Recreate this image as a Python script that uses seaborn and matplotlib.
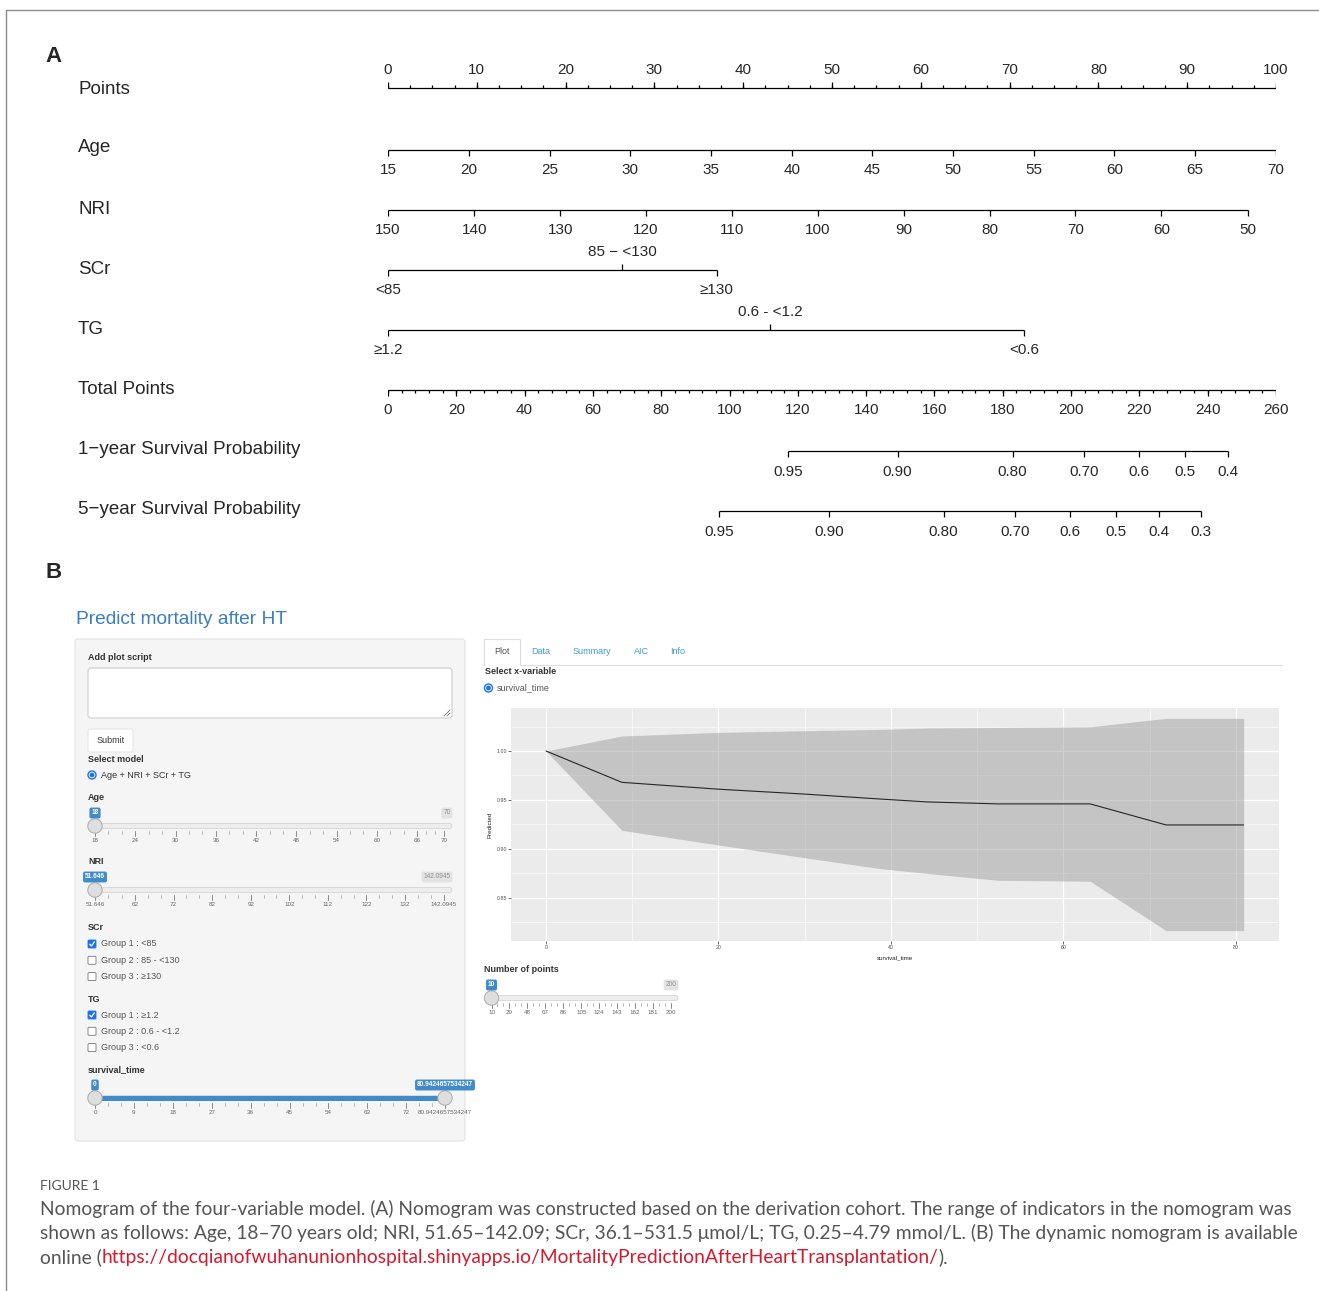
import matplotlib
matplotlib.use("Agg")
import matplotlib.pyplot as plt
from matplotlib.patches import FancyBboxPatch, Rectangle, Circle
import numpy as np
import pandas as pd
import seaborn as sns

W, H = 1319, 1291

# ---------------- panel A: nomogram values ----------------
points_ticks = [0, 10, 20, 30, 40, 50, 60, 70, 80, 90, 100]
age_labels = [15, 20, 25, 30, 35, 40, 45, 50, 55, 60, 65, 70]
age_points = [0, 9.1, 18.2, 27.3, 36.4, 45.5, 54.5, 63.6, 72.7, 81.8, 90.9, 100]
nri_labels = [150, 140, 130, 120, 110, 100, 90, 80, 70, 60, 50]
nri_points = [0, 9.7, 19.4, 29.0, 38.7, 48.4, 58.1, 67.8, 77.4, 87.1, 96.8]
scr_labels = ["<85", "85 \u2212 <130", "\u2265130"]
scr_points = [0, 26.4, 37.0]
tg_labels = ["\u22651.2", "0.6 - <1.2", "<0.6"]
tg_points = [0, 43.0, 71.6]
total_ticks = [0, 20, 40, 60, 80, 100, 120, 140, 160, 180, 200, 220, 240, 260]
surv1_labels = ["0.95", "0.90", "0.80", "0.70", "0.6", "0.5", "0.4"]
surv1_total = [117.2, 149.2, 182.9, 203.9, 220.0, 233.4, 246.0]
surv5_labels = ["0.95", "0.90", "0.80", "0.70", "0.6", "0.5", "0.4", "0.3"]
surv5_total = [96.9, 129.2, 162.7, 183.7, 199.7, 213.2, 225.8, 237.9]
row_names = ["Points", "Age", "NRI", "SCr", "TG", "Total Points",
             "1\u2212year Survival Probability", "5\u2212year Survival Probability"]

# ---------------- panel B: shiny app values ----------------
age_slider = [18, 24, 30, 36, 42, 48, 54, 60, 66, 70]
nri_slider = [51.646, 62, 72, 82, 92, 102, 112, 122, 132, 142.0945]
nri_slider_text = ["51.646", "62", "72", "82", "92", "102", "112", "122", "132", "142.0945"]
time_slider = [0, 9, 18, 27, 36, 45, 54, 63, 72, 80.9424657534247]
time_slider_text = ["0", "9", "18", "27", "36", "45", "54", "63", "72", "80.9424657534247"]
npoints_slider = [10, 29, 48, 67, 86, 105, 124, 143, 162, 181, 200]
scr_groups = ["Group 1 : <85", "Group 2 : 85 - <130", "Group 3 : \u2265130"]
scr_checked = [True, False, False]
tg_groups = ["Group 1 : \u22651.2", "Group 2 : 0.6 - <1.2", "Group 3 : <0.6"]
tg_checked = [True, False, False]
tab_names = ["Plot", "Data", "Summary", "AIC", "Info"]

surv_time = [0, 8.8, 20, 30, 38.7, 44.2, 52.4, 63.1, 71.9, 80.9]
surv_pred = [1.000, 0.968, 0.961, 0.956, 0.951, 0.948, 0.946, 0.946, 0.9245, 0.9245]
surv_upper = [1.000, 1.0153, 1.019, 1.0207, 1.022, 1.0235, 1.024, 1.0247, 1.0333, 1.0333]
surv_lower = [1.000, 0.919, 0.904, 0.891, 0.880, 0.875, 0.868, 0.867, 0.8166, 0.8166]

sns.set_style("white")
plt.rcParams["font.family"] = ["Liberation Sans", "DejaVu Sans"]

fig = plt.figure(figsize=(W / 100, H / 100), dpi=100)
fig.patch.set_facecolor("white")

# pixel-space canvas for the screenshot parts
ui = fig.add_axes([0, 0, 1, 1], zorder=0)
ui.set_xlim(0, W)
ui.set_ylim(H, 0)
ui.axis("off")

# frame lines of the page
ui.plot([6, W], [10, 10], color="#8c8c8c", lw=1)
ui.plot([6, 6], [10, H], color="#8c8c8c", lw=1)

# ================= Panel A =================
ui.text(54, 56, "A", fontsize=16, fontweight="bold", ha="center", va="center")
row_y = [88, 150, 210, 270, 330, 390, 451, 511]
row_text_y = [90, 148, 210, 270, 330, 390, 449, 509]
for name, yy in zip(row_names, row_text_y):
    ui.text(78, yy, name, fontsize=13.5, ha="left", va="center")

box = [388 / W, 1 - 560 / H, 888 / W, 520 / H]
ax = fig.add_axes(box, zorder=2)
ax.set_xlim(0, 100)
ax.set_ylim(560, 40)
ax.axis("off")
axt = fig.add_axes(box, zorder=2)
axt.set_xlim(0, 260)
axt.set_ylim(560, 40)
axt.axis("off")

lw = 0.9
fs = 11


def scale(a, y, xs, labels, down=True, label_side=None, minor=None, mlen=3):
    a.hlines(y, min(xs), max(xs), color="black", lw=lw)
    for i, (x, lab) in enumerate(zip(xs, labels)):
        d = down if label_side is None else label_side[i]
        a.vlines(x, y, y + 6 if d else y - 6, color="black", lw=lw)
        a.text(x, y + 20.5 if d else y - 18.5, str(lab), fontsize=fs, ha="center", va="center")
    if minor is not None:
        a.vlines(minor, y, y + mlen if down else y - mlen, color="black", lw=lw)


scale(ax, row_y[0], points_ticks, points_ticks, down=False,
      minor=np.arange(0, 100.1, 2.5))
scale(ax, row_y[1], age_points, age_labels)
scale(ax, row_y[2], nri_points, nri_labels)
scale(ax, row_y[3], scr_points, scr_labels, label_side=[True, False, True])
scale(ax, row_y[4], tg_points, tg_labels, label_side=[True, False, True])
scale(axt, row_y[5], total_ticks, total_ticks, minor=np.arange(0, 260.1, 4))
scale(axt, row_y[6], surv1_total, surv1_labels)
scale(axt, row_y[7], surv5_total, surv5_labels)

# ================= Panel B =================
ui.text(54, 572, "B", fontsize=16, fontweight="bold", ha="center", va="center")
ui.text(76, 620, "Predict mortality after HT", fontsize=13.8, color="#3a7dc0",
        ha="left", va="center")

txt = "#333333"
ufs = 6.5
ui.add_patch(FancyBboxPatch((75, 639), 390, 502, boxstyle="round,pad=0,rounding_size=3",
                            fc="#f5f5f5", ec="#e3e3e3", lw=0.8))
ui.text(88, 658, "Add plot script", fontsize=ufs, fontweight="bold", color=txt, va="center")
ui.add_patch(FancyBboxPatch((88, 668), 364, 50, boxstyle="round,pad=0,rounding_size=3",
                            fc="white", ec="#cccccc", lw=0.8))
ui.plot([444, 450], [716, 710], color="#777777", lw=0.6)
ui.plot([447, 450], [716, 713], color="#777777", lw=0.6)
ui.add_patch(FancyBboxPatch((88, 729), 45, 23, boxstyle="round,pad=0,rounding_size=2",
                            fc="white", ec="#e6e6e6", lw=0.8))
ui.text(110.5, 740.5, "Submit", fontsize=ufs, color=txt, ha="center", va="center")
ui.text(88, 759, "Select model", fontsize=ufs, fontweight="bold", color=txt, va="center")


def radio(x, y):
    ui.add_patch(Circle((x, y), 4, fc="white", ec="#1a73e8", lw=1.0))
    ui.add_patch(Circle((x, y), 2.4, fc="#1a73e8", ec="none"))


def checkbox(x, y, on):
    if on:
        ui.add_patch(FancyBboxPatch((x - 4, y - 4), 8, 8, boxstyle="round,pad=0,rounding_size=1",
                                    fc="#1a73e8", ec="#1a73e8", lw=0.6))
        ui.plot([x - 2.3, x - 0.6, x + 2.4], [y + 0.2, y + 2.0, y - 2.2], color="white", lw=0.9)
    else:
        ui.add_patch(FancyBboxPatch((x - 4, y - 4), 8, 8, boxstyle="round,pad=0,rounding_size=1",
                                    fc="white", ec="#767676", lw=0.6))


radio(92, 775)
ui.text(101, 775, "Age + NRI + SCr + TG", fontsize=ufs, color=txt, va="center")


def slider(y, track, vals, texts, lo_px, hi_px, handles, lo_text, hi_text, rng=False):
    v0, v1 = vals[0], vals[-1]

    def px(v):
        return lo_px + (v - v0) / (v1 - v0) * (hi_px - lo_px)

    ui.add_patch(FancyBboxPatch((track[0], y - 2.5), track[1] - track[0], 5,
                                boxstyle="round,pad=0,rounding_size=2.5",
                                fc="#ededed", ec="#d0d0d0", lw=0.5, zorder=1))
    if rng:
        ui.add_patch(Rectangle((px(handles[0]), y - 2.5), px(handles[1]) - px(handles[0]), 5,
                               fc="#428bca", ec="none", zorder=1.5))
    xs = [px(v) for v in vals]
    for i, (x, t) in enumerate(zip(xs, texts)):
        ui.plot([x, x], [y + 5, y + 10], color="#8a8a8a", lw=0.7)
        ui.text(x, y + 15, t, fontsize=4.5, color="#666666", ha="center", va="center")
        if i < len(xs) - 1:
            for k in (1, 2):
                xm = x + (xs[i + 1] - x) * k / 3
                ui.plot([xm, xm], [y + 5, y + 8], color="#a0a0a0", lw=0.5)
    for hv in handles:
        ui.add_patch(Circle((px(hv), y), 7.2, fc="#dedede", ec="#ababab", lw=0.7, zorder=3))
    ui.text(px(handles[0]), y - 13, lo_text, fontsize=4.7, color="white", ha="center",
            va="center", fontweight="bold",
            bbox=dict(boxstyle="round,pad=0.3,rounding_size=0.3", fc="#428bca", ec="none"))
    if rng:
        ui.text(px(handles[1]), y - 13, hi_text, fontsize=4.7, color="white", ha="center",
                va="center", fontweight="bold",
                bbox=dict(boxstyle="round,pad=0.3,rounding_size=0.3", fc="#428bca", ec="none"))
    else:
        ui.text(track[1] - 1.5, y - 13, hi_text, fontsize=4.7, color="#8f8f8f", ha="right",
                va="center",
                bbox=dict(boxstyle="round,pad=0.3,rounding_size=0.3", fc="#e3e3e3", ec="none"))


ui.text(88, 798, "Age", fontsize=ufs, fontweight="bold", color=txt, va="center")
slider(826, (88, 452), age_slider, [str(v) for v in age_slider], 95, 444,
       [age_slider[0]], str(age_slider[0]), str(age_slider[-1]))

ui.text(88, 862, "NRI", fontsize=ufs, fontweight="bold", color=txt, va="center")
slider(890, (88, 452), nri_slider, nri_slider_text, 95, 444,
       [nri_slider[0]], nri_slider_text[0], nri_slider_text[-1])

ui.text(88, 928, "SCr", fontsize=ufs, fontweight="bold", color=txt, va="center")
for i, (g, on) in enumerate(zip(scr_groups, scr_checked)):
    yy = 944 + i * 16.3
    checkbox(92, yy, on)
    ui.text(101, yy, g, fontsize=ufs, color="#555555", va="center")

ui.text(88, 999, "TG", fontsize=ufs, fontweight="bold", color=txt, va="center")
for i, (g, on) in enumerate(zip(tg_groups, tg_checked)):
    yy = 1015 + i * 16.3
    checkbox(92, yy, on)
    ui.text(101, yy, g, fontsize=ufs, color="#555555", va="center")

ui.text(88, 1070, "survival_time", fontsize=ufs, fontweight="bold", color=txt, va="center")
slider(1098, (88, 452), time_slider, time_slider_text, 95, 445,
       [time_slider[0], time_slider[-1]], time_slider_text[0], time_slider_text[-1], rng=True)

# tabs
ui.plot([484, 484, 520, 520], [665, 639, 639, 665], color="#dddddd", lw=0.8)
ui.plot([520, 1282], [665, 665], color="#dddddd", lw=0.8)
for name, xc in zip(tab_names, [502, 541, 592, 641, 678]):
    ui.text(xc, 652, name, fontsize=ufs, color="#555555" if name == "Plot" else "#3b9be0",
            ha="center", va="center")
ui.text(485, 672, "Select x-variable", fontsize=ufs, fontweight="bold", color=txt, va="center")
radio(488.5, 688)
ui.text(497, 688, "survival_time", fontsize=ufs, color="#555555", va="center")

ui.text(484, 970, "Number of points", fontsize=ufs, fontweight="bold", color=txt, va="center")
slider(998, (485, 678), npoints_slider, [str(v) for v in npoints_slider], 491.5, 671,
       [npoints_slider[0]], str(npoints_slider[0]), str(npoints_slider[-1]))

# ggplot-like prediction plot
axp = fig.add_axes([511 / W, 1 - 941 / H, 768 / W, 233 / H], zorder=2)
axp.set_facecolor("#ebebeb")
axp.set_axisbelow(True)
df = pd.DataFrame({"survival_time": surv_time, "Predicted": surv_pred,
                   "lower": surv_lower, "upper": surv_upper})
axp.fill_between(df["survival_time"], df["lower"], df["upper"], color="#999999",
                 alpha=0.47, lw=0, zorder=2)
sns.lineplot(data=df, x="survival_time", y="Predicted", ax=axp, color="#262626",
             lw=0.8, zorder=3)
axp.set_xlim(-4.06, 85.0)
axp.set_ylim(0.806, 1.0439)
axp.set_xticks([0, 20, 40, 60, 80])
axp.set_xticks([10, 30, 50, 70], minor=True)
axp.set_yticks([0.85, 0.90, 0.95, 1.00])
axp.set_yticklabels(["0.85", "0.90", "0.95", "1.00"])
axp.set_yticks([0.825, 0.875, 0.925, 0.975, 1.025], minor=True)
axp.grid(which="major", color="white", lw=0.9)
axp.grid(which="minor", color="white", lw=0.45)
axp.tick_params(which="major", length=2, width=0.5, color="#333333", labelsize=3.8,
                labelcolor="#4d4d4d", pad=1, left=True, bottom=True)
axp.tick_params(which="minor", length=0)
for s in axp.spines.values():
    s.set_visible(False)
axp.set_xlabel("survival_time", fontsize=4.5, color="#222222")
axp.set_ylabel("Predicted", fontsize=4.5, color="#222222")
axp.xaxis.set_label_coords(0.5, -(955 - 941) / 233)
axp.yaxis.set_label_coords(-(511 - 492) / 768, 0.5)

# ================= caption =================
cap_col = "#555555"
ui.text(40, 1186, "FIGURE 1", fontsize=10, family="Lato", color=cap_col, va="center")
line1 = ("Nomogram of the four-variable model. (A) Nomogram was constructed based on the "
         "derivation cohort. The range of indicators in the nomogram was")
line2 = ("shown as follows: Age, 18\u201370 years old; NRI, 51.65\u2013142.09; SCr, "
         "36.1\u2013531.5 \u03bcmol/L; TG, 0.25\u20134.79 mmol/L. (B) The dynamic nomogram "
         "is available")
link = "https://docqianofwuhanunionhospital.shinyapps.io/MortalityPredictionAfterHeartTransplantation/"

fig.canvas.draw()
r = fig.canvas.get_renderer()


def fit_line(s, y, target):
    t = ui.text(40, y, s, fontsize=12, family="Lato", color=cap_col, va="center")
    for _ in range(4):
        w = t.get_window_extent(r).width
        t.set_fontsize(t.get_fontsize() * target / w)
    return t.get_fontsize()


cfs = fit_line(line1, 1209, 1247)
fit_line(line2, 1233, 1260)
t3 = ui.text(40, 1257, "online (", fontsize=cfs, family="Lato", color=cap_col, va="center")
x = 40 + t3.get_window_extent(r).width
t4 = ui.text(x, 1257, link, fontsize=cfs, family="Lato", color="#d7192c", va="center")
x += t4.get_window_extent(r).width
ui.text(x, 1257, ").", fontsize=cfs, family="Lato", color=cap_col, va="center")

fig.savefig("out.png", dpi=100)
